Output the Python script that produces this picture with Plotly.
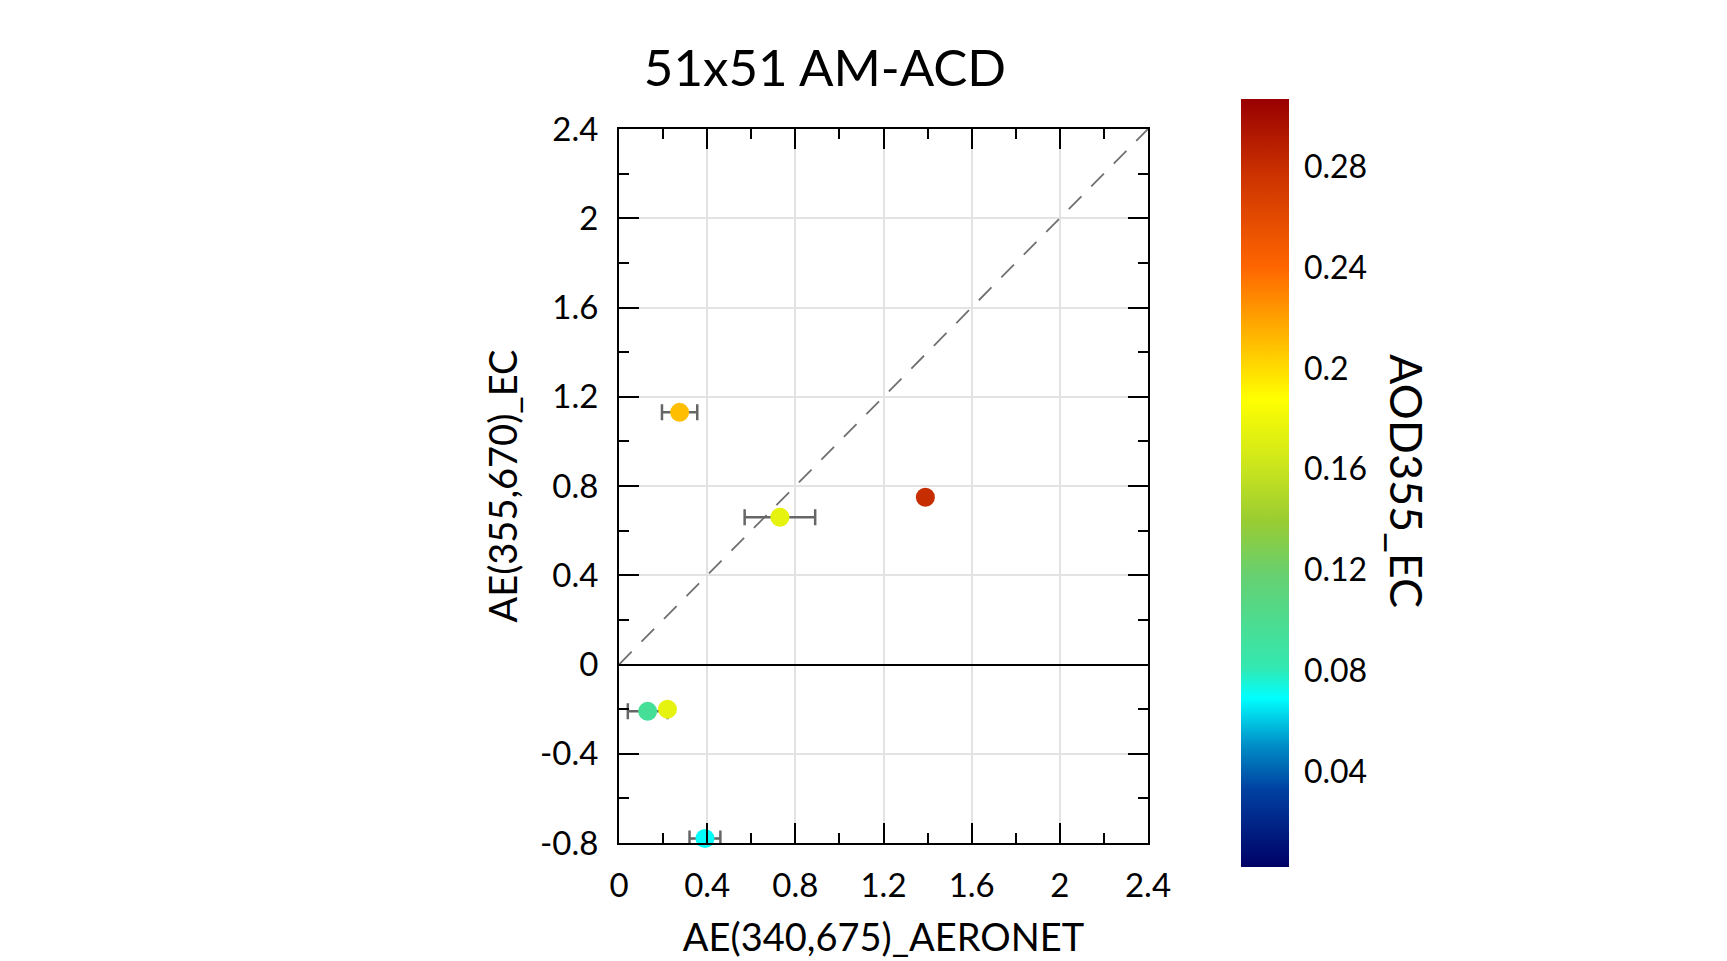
import plotly.graph_objects as go

# AE(340,675) AERONET vs AE(355,670) EC, colored by AOD355_EC
ae_aeronet = [0.275, 0.73, 1.39, 0.13, 0.22, 0.39]
ae_aeronet_err = [0.08, 0.16, 0.0, 0.09, 0.0, 0.07]
ae_ec = [1.13, 0.66, 0.75, -0.21, -0.20, -0.78]
aod355_ec = [0.21, 0.175, 0.28, 0.095, 0.175, 0.07]

x_ticks = [0, 0.4, 0.8, 1.2, 1.6, 2, 2.4]
x_ticklabels = ["0", "0.4", "0.8", "1.2", "1.6", "2", "2.4"]
y_ticks = [-0.8, -0.4, 0, 0.4, 0.8, 1.2, 1.6, 2, 2.4]
y_ticklabels = ["-0.8", "-0.4", "0", "0.4", "0.8", "1.2", "1.6", "2", "2.4"]
cb_ticks = [0.04, 0.08, 0.12, 0.16, 0.2, 0.24, 0.28]
cb_ticklabels = ["0.04", "0.08", "0.12", "0.16", "0.2", "0.24", "0.28"]
one_to_one = [0, 2.4]

FONT = "Lato"
W, H = 1727, 961
L, R, T, B = 611, 1140, 121, 835

cscale = [
    [0.0, "#000066"],
    [0.10, "#0040A0"],
    [0.16, "#0090C8"],
    [0.22, "#00FFFF"],
    [0.26, "#33E8B0"],
    [0.38, "#66D070"],
    [0.45, "#99CC33"],
    [0.53, "#D0E81A"],
    [0.61, "#FFFF00"],
    [0.68, "#FFC000"],
    [0.78, "#FF6600"],
    [0.90, "#CC3300"],
    [1.0, "#990000"],
]

fig = go.Figure()

fig.add_trace(go.Scatter(
    x=one_to_one, y=one_to_one, mode="lines",
    line=dict(color="#707070", width=1.8, dash="18px,14px"),
    showlegend=False, hoverinfo="skip",
))

fig.add_trace(go.Scatter(
    x=ae_aeronet, y=ae_ec, mode="markers", cliponaxis=False,
    error_x=dict(type="data", array=ae_aeronet_err, visible=True,
                 color="#666666", thickness=2.5, width=8),
    marker=dict(
        size=19, color=aod355_ec, colorscale=cscale,
        cmin=0.002, cmax=0.307,
        colorbar=dict(
            x=(1233 - L) / (R - L), xanchor="left", xpad=0, ypad=0,
            y=(B - 475) / (B - T), yanchor="middle",
            len=(859 - 91) / (B - T), lenmode="fraction",
            thickness=48, outlinewidth=0,
            tickvals=cb_ticks, ticktext=cb_ticklabels,
            ticks="outside", ticklen=9, tickcolor="rgba(0,0,0,0)",
            tickfont=dict(family=FONT, size=32, color="black"),
        ),
    ),
    showlegend=False,
))

axis_common = dict(
    showline=True, mirror="allticks", linecolor="black", linewidth=2,
    ticks="inside", ticklen=20, tickwidth=2, tickcolor="black",
    showgrid=True, gridcolor="#E3E3E3", gridwidth=1.5,
    tickfont=dict(family=FONT, size=33, color="black"),
    minor=dict(ticks="inside", ticklen=10, tickwidth=2, tickcolor="black",
               dtick=0.2, showgrid=False),
)

fig.update_xaxes(
    range=[0, 2.4], tickvals=x_ticks, ticktext=x_ticklabels,
    zeroline=False, ticklabelstandoff=12,
    title=dict(text="AE(340,675)_AERONET", standoff=22,
               font=dict(family=FONT, size=38, color="black")),
    **axis_common,
)
fig.update_yaxes(
    range=[-0.8, 2.4], tickvals=y_ticks, ticktext=y_ticklabels,
    zeroline=True, zerolinecolor="black", zerolinewidth=2,
    ticklabelstandoff=12,
    title=dict(text="AE(355,670)_EC", standoff=11,
               font=dict(family=FONT, size=38, color="black")),
    **axis_common,
)

fig.add_annotation(
    text="AOD355_EC", textangle=90, showarrow=False,
    xref="paper", yref="paper",
    x=(1399 - L) / (R - L), y=(B - 473) / (B - T),
    xanchor="center", yanchor="middle",
    font=dict(family=FONT, size=45, color="black"),
)

fig.update_layout(
    width=W, height=H,
    margin=dict(l=L, r=W - R, t=T, b=H - B, pad=0),
    paper_bgcolor="white", plot_bgcolor="white",
    title=dict(text="51x51 AM-ACD", x=817 / W, xanchor="center",
               y=1 - 60 / H, yanchor="middle",
               font=dict(family=FONT, size=51, color="black")),
    font=dict(family=FONT, color="black"),
)

fig.write_html("out.html")
